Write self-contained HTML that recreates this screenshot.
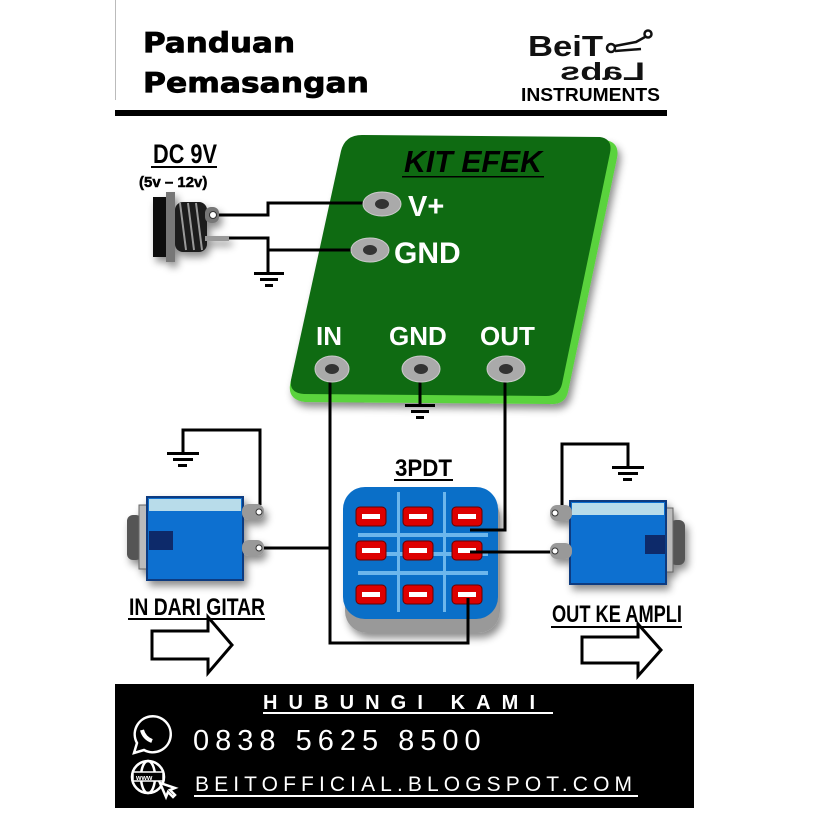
<!DOCTYPE html>
<html><head><meta charset="utf-8"><style>
html,body{margin:0;padding:0;background:#fff;}
svg{display:block}
</style></head><body>
<svg width="815" height="815" viewBox="0 0 815 815" xmlns="http://www.w3.org/2000/svg" font-family="'Liberation Sans',sans-serif">
<defs>
<filter id="sh" x="-20%" y="-20%" width="140%" height="140%"><feDropShadow dx="3" dy="5" stdDeviation="4" flood-color="#000" flood-opacity="0.45"/></filter>
</defs>
<rect width="815" height="815" fill="#fff"/>
<line x1="115.5" y1="0" x2="115.5" y2="100" stroke="#bbb" stroke-width="1"/>
<text x="143" y="52" font-size="28" font-weight="bold" fill="#000" font-family="'DejaVu Sans',sans-serif" stroke="#000" stroke-width="0.8" textLength="152" lengthAdjust="spacingAndGlyphs">Panduan</text>
<text x="143" y="92" font-size="28" font-weight="bold" fill="#000" font-family="'DejaVu Sans',sans-serif" stroke="#000" stroke-width="0.8" textLength="226" lengthAdjust="spacingAndGlyphs">Pemasangan</text>
<rect x="115" y="110" width="552" height="6" fill="#000"/>
<text x="528" y="56" font-size="29" font-weight="bold" fill="#111" textLength="75" lengthAdjust="spacingAndGlyphs">BeiT</text>
<g stroke="#111" stroke-width="2.5" fill="none"><circle cx="611" cy="48" r="4"/><circle cx="648" cy="34" r="3.5"/><path d="M615 46 L636 42 L645 37"/><path d="M615 51 L641 49"/></g>
<text x="0" y="0" font-size="25" font-weight="bold" fill="#111" transform="translate(645,80) scale(-1,1)" textLength="85" lengthAdjust="spacingAndGlyphs">Labs</text>
<text x="521" y="101" font-size="18" font-weight="bold" fill="#000" textLength="139" lengthAdjust="spacingAndGlyphs">INSTRUMENTS</text>
<path d="M365 138 L605 140 Q620 142 617 158 L568 392 Q565 405 550 404 L305 402 Q288 400 290 385 L342 155 Q347 138 365 138 Z" fill="#5ad33d" filter="url(#sh)"/>
<path d="M362 135 L600 137 Q613 139 610 153 L562 384 Q559 396 546 396 L304 394 Q289 393 291 380 L341 151 Q345 135 362 135 Z" fill="#0f6b12"/>
<text x="404" y="172" font-size="31" font-weight="bold" font-style="italic" fill="#000" textLength="138" lengthAdjust="spacingAndGlyphs">KIT EFEK</text>
<rect x="402" y="176" width="142" height="1.5" fill="#000"/>
<g stroke="#000" stroke-width="3" fill="none">
<path d="M218 215 H268 V203 H365"/>
<path d="M228 238 H268 V250 H355"/>
<path d="M268 250 V272"/>
<path d="M330 369 V643 H468 V598"/>
<path d="M420 369 V404"/>
<path d="M505 369 V530 H470"/>
<path d="M262 548 H330"/>
<path d="M470 552 H556"/>
<path d="M260 505 V430 H183 V452"/>
<path d="M562 506 V444 H628 V466"/>
</g>
<g fill="#000">
<rect x="254" y="272" width="30" height="3"/><rect x="260" y="278" width="18" height="3"/><rect x="265" y="284" width="8" height="3"/>
<rect x="405" y="404" width="30" height="3"/><rect x="411" y="410" width="18" height="3"/><rect x="416" y="416" width="8" height="3"/>
<rect x="167" y="452" width="32" height="3"/><rect x="173" y="458" width="20" height="3"/><rect x="178" y="464" width="9" height="3"/>
<rect x="612" y="466" width="32" height="3"/><rect x="618" y="472" width="20" height="3"/><rect x="623" y="478" width="9" height="3"/>
</g>
<g>
<ellipse cx="382" cy="204" rx="19" ry="12" fill="#aaa" stroke="#ccc"/><ellipse cx="382" cy="204" rx="7" ry="5" fill="#333"/>
<ellipse cx="370" cy="250" rx="19" ry="12" fill="#aaa" stroke="#ccc"/><ellipse cx="370" cy="250" rx="7" ry="5" fill="#333"/>
<ellipse cx="332" cy="369" rx="17" ry="13" fill="#aaa" stroke="#ccc"/><ellipse cx="332" cy="369" rx="7" ry="5" fill="#333"/>
<ellipse cx="421" cy="369" rx="19" ry="13" fill="#aaa" stroke="#ccc"/><ellipse cx="421" cy="369" rx="7" ry="5" fill="#333"/>
<ellipse cx="506" cy="369" rx="19" ry="13" fill="#aaa" stroke="#ccc"/><ellipse cx="506" cy="369" rx="7" ry="5" fill="#333"/>
</g>
<g font-weight="bold" fill="#fff">
<text x="408" y="216" font-size="29">V+</text>
<text x="394" y="263" font-size="30">GND</text>
<text x="316" y="345" font-size="26">IN</text>
<text x="389" y="345" font-size="26">GND</text>
<text x="480" y="345" font-size="26">OUT</text>
</g>
<text x="153" y="163" font-size="27" font-weight="bold" fill="#000" textLength="64" lengthAdjust="spacingAndGlyphs">DC 9V</text>
<rect x="151" y="166" width="66" height="2" fill="#000"/>
<text x="139" y="187" font-size="15" font-weight="bold" fill="#000" stroke="#000" stroke-width="0.5">(5v – 12v)</text>
<g filter="url(#sh)">
<rect x="153" y="197" width="20" height="60" fill="#111"/>
<rect x="166" y="192" width="9" height="70" fill="#777"/>
<rect x="175" y="202" width="32" height="50" rx="8" fill="#1a1a1a"/>
<g stroke="#999" stroke-width="2"><line x1="180" y1="203" x2="186" y2="250"/><line x1="188" y1="203" x2="194" y2="250"/><line x1="196" y1="203" x2="202" y2="250"/></g>
<rect x="205" y="207" width="14" height="16" rx="6" fill="#777"/><circle cx="213" cy="215" r="3.5" fill="#fff" stroke="#333"/>
<rect x="205" y="236" width="24" height="5" fill="#999"/>
</g>
<g filter="url(#sh)">
<rect x="127" y="515" width="15" height="45" rx="6" fill="#555"/>
<rect x="139" y="505" width="9" height="64" fill="#bbb" stroke="#666"/>
<rect x="147" y="497" width="96" height="83" fill="#0a6fd0" stroke="#0a3a80" stroke-width="2"/>
<rect x="149" y="499" width="92" height="12" fill="#b8dcea"/>
<rect x="149" y="531" width="24" height="19" fill="#0a2a6a"/>
<rect x="242" y="504" width="22" height="16" rx="7" fill="#999"/><circle cx="259" cy="512" r="3" fill="#fff" stroke="#333"/>
<rect x="242" y="540" width="22" height="16" rx="7" fill="#999"/><circle cx="259" cy="548" r="3" fill="#fff" stroke="#333"/>
</g>
<g filter="url(#sh)">
<rect x="670" y="520" width="15" height="45" rx="6" fill="#555"/>
<rect x="664" y="508" width="9" height="64" fill="#bbb" stroke="#666"/>
<rect x="570" y="501" width="96" height="83" fill="#0a6fd0" stroke="#0a3a80" stroke-width="2"/>
<rect x="572" y="503" width="92" height="12" fill="#b8dcea"/>
<rect x="645" y="535" width="20" height="19" fill="#0a2a6a"/>
<rect x="550" y="505" width="22" height="16" rx="7" fill="#999"/><circle cx="555" cy="513" r="3" fill="#fff" stroke="#333"/>
<rect x="550" y="543" width="22" height="16" rx="7" fill="#999"/><circle cx="555" cy="551" r="3" fill="#fff" stroke="#333"/>
</g>
<text x="395" y="476" font-size="24" font-weight="bold" fill="#000" textLength="57" lengthAdjust="spacingAndGlyphs">3PDT</text>
<rect x="394" y="479" width="59" height="2" fill="#000"/>
<rect x="345" y="495" width="155" height="138" rx="22" fill="#999" filter="url(#sh)"/>
<rect x="343" y="487" width="155" height="132" rx="22" fill="#0a6fc8"/>
<g fill="#6cb6ec"><rect x="397" y="492" width="3" height="120"/><rect x="443" y="492" width="3" height="120"/><rect x="358" y="552" width="130" height="4"/><rect x="358" y="571" width="130" height="4"/><rect x="358" y="533" width="130" height="4"/></g>
<g fill="#d00" stroke="#600" stroke-width="1">
<rect x="356" y="507" width="30" height="19" rx="4"/><rect x="403" y="507" width="30" height="19" rx="4"/><rect x="452" y="507" width="30" height="19" rx="4"/>
<rect x="356" y="541" width="30" height="19" rx="4"/><rect x="403" y="541" width="30" height="19" rx="4"/><rect x="452" y="541" width="30" height="19" rx="4"/>
<rect x="356" y="585" width="30" height="19" rx="4"/><rect x="403" y="585" width="30" height="19" rx="4"/><rect x="452" y="585" width="30" height="19" rx="4"/>
</g>
<g fill="#fff">
<rect x="362" y="514" width="18" height="5"/><rect x="409" y="514" width="18" height="5"/><rect x="458" y="514" width="18" height="5"/>
<rect x="362" y="548" width="18" height="5"/><rect x="409" y="548" width="18" height="5"/><rect x="458" y="548" width="18" height="5"/>
<rect x="362" y="592" width="18" height="5"/><rect x="409" y="592" width="18" height="5"/><rect x="458" y="592" width="18" height="5"/>
</g>
<g stroke="#000" stroke-width="3" fill="none"><path d="M505 530 H470"/><path d="M470 552 H500"/><path d="M468 598 V643"/></g>
<text x="129" y="615" font-size="24" font-weight="bold" fill="#000" textLength="136" lengthAdjust="spacingAndGlyphs">IN DARI GITAR</text>
<rect x="128" y="618" width="137" height="2" fill="#000"/>
<path d="M152 631 H208 V617 L232 645 L208 673 V659 H152 Z" fill="#fff" stroke="#000" stroke-width="3"/>
<text x="552" y="622" font-size="24" font-weight="bold" fill="#000" textLength="130" lengthAdjust="spacingAndGlyphs">OUT KE AMPLI</text>
<rect x="551" y="626" width="131" height="2" fill="#000"/>
<path d="M582 637 H638 V624 L661 650 L638 676 V663 H582 Z" fill="#fff" stroke="#000" stroke-width="3"/>
<rect x="115" y="684" width="579" height="124" fill="#000"/>
<text x="263" y="709" font-size="20" font-weight="bold" fill="#fff" letter-spacing="14" textLength="286">HUBUNGI KAMI</text>
<rect x="263" y="712" width="290" height="2" fill="#fff"/>
<text x="193" y="750" font-size="29" fill="#fff" letter-spacing="6">0838 5625 8500</text>
<text x="195" y="791" font-size="21" fill="#fff" letter-spacing="5" textLength="442">BEITOFFICIAL.BLOGSPOT.COM</text>
<rect x="194" y="795" width="444" height="2" fill="#fff"/>
<g stroke="#fff" stroke-width="2.5" fill="none">
<path d="M134 753 L137 743 A18 18 0 1 1 144 750 Z"/>
<path d="M142 730 q2 8 10 11" stroke-width="4"/>
<circle cx="148" cy="777" r="16"/><ellipse cx="148" cy="777" rx="7" ry="16"/><line x1="132" y1="777" x2="164" y2="777"/>
<path d="M160 783 l6 14 l2-5 l5 5 l2-2 l-5-5 l5-2 z" fill="#000"/>
</g>
<rect x="133" y="772" width="30" height="9" fill="#000" stroke="#fff" stroke-width="1.5"/>
<text x="136" y="780" font-size="7" font-weight="bold" fill="#fff">www</text>
</svg>
</body></html>
